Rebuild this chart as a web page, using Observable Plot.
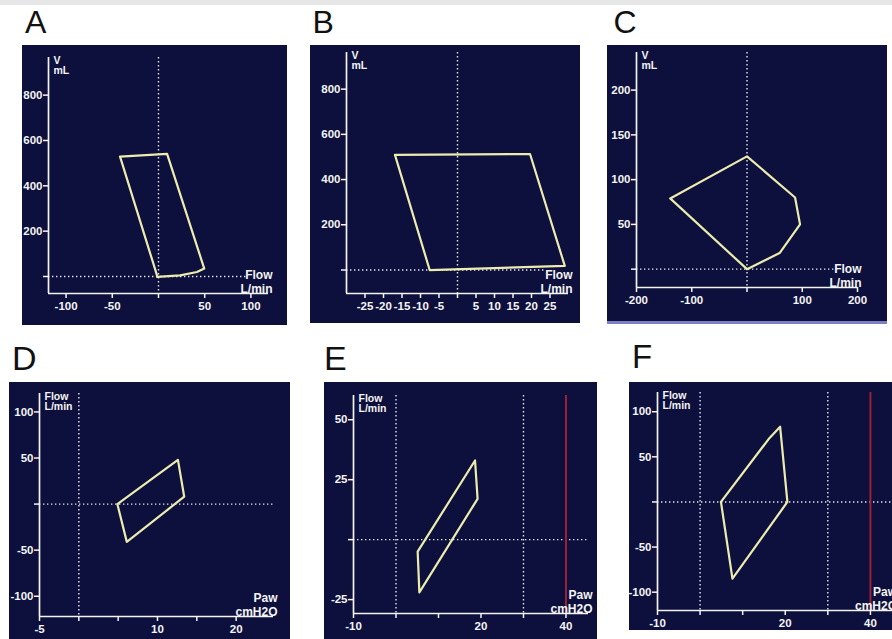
<!DOCTYPE html>
<html>
<head>
<meta charset="utf-8">
<script src="https://cdn.jsdelivr.net/npm/d3@7"></script>
<script src="https://cdn.jsdelivr.net/npm/@observablehq/plot@0.6"></script>
<style>
  html, body { margin: 0; padding: 0; background: #ffffff; }
  #root { position: relative; width: 892px; height: 639px; overflow: hidden; background: #ffffff; }
  .panel { position: absolute; overflow: hidden; }
  .panel svg { display: block; max-width: none !important; }
  #letters { position: absolute; left: 0; top: 0; }
</style>
</head>
<body>
<div id="root"></div>
<script>
// ---------- data ----------
const panelLetters = ["A", "B", "C", "D", "E", "F"];

// A: volume–flow loop
const flowA = [-41.6, 9.3, 49.5, 41.6, 23.4, -1.4, -2.2, -41.6];
const volA  = [529, 541, 35, 20, 5, -2, 13, 529];
// B: volume–flow loop
const flowB = [-16.9, 19.6, 29.0, -7.5, -16.9];
const volB  = [509, 513, 18, -1, 509];
// C: volume–flow loop
const flowC = [0, 59, 96, 87, 0, -139, 0];
const volC  = [0, 18, 50, 80, 126, 79, 0];
// D: flow–pressure loop
const pawD  = [4.9, 12.6, 13.4, 6.1, 4.9];
const flowD = [0, 48, 8, -41, 0];
// E: flow–pressure loop
const pawE  = [5.1, 18.6, 19.2, 5.5, 5.1];
const flowE = [-5, 33, 17, -22, -5];
// F: flow–pressure loop
const pawF  = [4.9, 16.1, 18.8, 20.5, 7.6, 4.9];
const flowF = [0, 69.7, 83.3, 0, -85, 0];

// tick values and the subset that carries a label
const xTicksA = [-100, -50, 0, 50, 100];       const xLabelsA = [-100, -50, 50, 100];
const yTicksA = [0, 200, 400, 600, 800];        const yLabelsA = [200, 400, 600, 800];
const xTicksB = [-25, -20, -15, -10, -5, 0, 5, 10, 15, 20, 25];
const xLabelsB = [-25, -20, -15, -10, -5, 5, 10, 15, 20, 25];
const yTicksB = [0, 200, 400, 600, 800];        const yLabelsB = [200, 400, 600, 800];
const xTicksC = [-200, -100, 0, 100, 200];      const xLabelsC = [-200, -100, 100, 200];
const yTicksC = [0, 50, 100, 150, 200];         const yLabelsC = [50, 100, 150, 200];
const xTicksD = [-5, 0, 5, 10, 15, 20];         const xLabelsD = [-5, 10, 20];
const yTicksD = [-100, -50, 0, 50, 100];        const yLabelsD = [-100, -50, 50, 100];
const xTicksE = [-10, 0, 10, 20, 30, 40];       const xLabelsE = [-10, 20, 40];
const yTicksE = [-25, 0, 25, 50];               const yLabelsE = [-25, 25, 50];
const xTicksF = [-10, 0, 10, 20, 30, 40];       const xLabelsF = [-10, 20, 40];
const yTicksF = [-100, -50, 0, 50, 100];        const yLabelsF = [-100, -50, 50, 100];

// axis names
const vfXName = "Flow\nL/min", vfYName = "V\nmL";
const fpXName = "Paw\ncmH2O",  fpYName = "Flow\nL/min";

// reference lines
const dottedXABC = [0];
const dottedXD = [0];
const dottedXEF = [0, 30];
const pressureLimit = [40];

// ---------- styling / layout ----------
const NAVY = "#0d0f3c";
const LOOP = "#ececae";
const AXIS = "#f4f4f4";
const DOT = "#e6e6f2";
const RED = "#9c1f35";
const FONT = "'Liberation Sans', Arial, sans-serif";

const panels = [
  {letter: panelLetters[0], left: 22, top: 45, w: 265, h: 280, clipW: 265,
   ml: 26, mr: 19, mt: 12, mb: 32, xDomain: [-119, 119], yDomain: [-75, 966],
   px: flowA, py: volA, xTicks: xTicksA, xLabels: xLabelsA, yTicks: yTicksA, yLabels: yLabelsA,
   xName: vfXName, yName: vfYName, dottedX: dottedXABC, hEnd: 97, red: null, nameLH: 1.0, nameFS: 10.5},
  {letter: panelLetters[1], left: 310, top: 45, w: 270, h: 278, clipW: 270,
   ml: 36, mr: 12, mt: 7, mb: 30, xDomain: [-30, 30], yDomain: [-104, 962],
   px: flowB, py: volB, xTicks: xTicksB, xLabels: xLabelsB, yTicks: yTicksB, yLabels: yLabelsB,
   xName: vfXName, yName: vfYName, dottedX: dottedXABC, hEnd: 24, red: null, nameLH: 1.0, nameFS: 10.5},
  {letter: panelLetters[2], left: 607, top: 45, w: 280, h: 276, clipW: 280,
   ml: 29, mr: 30, mt: 7, mb: 34, xDomain: [-200, 200], yDomain: [-20.5, 242],
   px: flowC, py: volC, xTicks: xTicksC, xLabels: xLabelsC, yTicks: yTicksC, yLabels: yLabelsC,
   xName: vfXName, yName: vfYName, dottedX: dottedXABC, hEnd: 170, red: null, nameLH: 1.0, nameFS: 10.5, underline: true},
  {letter: panelLetters[3], left: 9, top: 382, w: 281, h: 257, clipW: 281,
   ml: 30, mr: 17, mt: 11, mb: 23, xDomain: [-5, 24.75], yDomain: [-122, 120],
   px: pawD, py: flowD, xTicks: xTicksD, xLabels: xLabelsD, yTicks: yTicksD, yLabels: yLabelsD,
   xName: fpXName, yName: fpYName, dottedX: dottedXD, hEnd: null, red: null, nameLH: 1.0, nameFS: 10.5},
  {letter: panelLetters[4], left: 324, top: 382, w: 273, h: 257, clipW: 273,
   ml: 29, mr: 9, mt: 13, mb: 26, xDomain: [-10, 45.3], yDomain: [-30.8, 60.1],
   px: pawE, py: flowE, xTicks: xTicksE, xLabels: xLabelsE, yTicks: yTicksE, yLabels: yLabelsE,
   xName: fpXName, yName: fpYName, dottedX: dottedXEF, hEnd: null, red: pressureLimit, nameLH: 1.0, nameFS: 10.5},
  {letter: panelLetters[5], left: 629, top: 382, w: 280, h: 248, clipW: 263,
   ml: 28, mr: 16.5, mt: 10, mb: 20, xDomain: [-10, 45.3], yDomain: [-120.3, 121.3],
   px: pawF, py: flowF, xTicks: xTicksF, xLabels: xLabelsF, yTicks: yTicksF, yLabels: yLabelsF,
   xName: fpXName, yName: fpYName, dottedX: dottedXEF, hEnd: null, red: pressureLimit, nameLH: 1.0, nameFS: 10.5}
];

const letterPos = [
  {x: 25, y: 33, size: 32}, {x: 312.5, y: 33, size: 32}, {x: 613.5, y: 33, size: 32},
  {x: 12, y: 370, size: 34}, {x: 324, y: 370, size: 34}, {x: 632, y: 368, size: 33}
];

const root = document.getElementById("root");

// top grey band + panel letters
const overlay = d3.create("svg").attr("id", "letters").attr("width", 892).attr("height", 639);
overlay.append("rect").attr("x", 0).attr("y", 0).attr("width", 892).attr("height", 5).attr("fill", "#e6e6e6");
panels.forEach((p, i) => {
  overlay.append("text")
    .attr("x", letterPos[i].x).attr("y", letterPos[i].y)
    .attr("font-family", "'Liberation Sans', Arial, sans-serif")
    .attr("font-size", letterPos[i].size)
    .attr("fill", "#111")
    .text(p.letter);
});
root.appendChild(overlay.node());

function makePanel(p) {
  const loop = p.px.map((x, i) => ({x, y: p.py[i]}));
  const hRule = p.hEnd == null ? {} : {x1: p.xDomain[0], x2: p.hEnd};
  const plot = Plot.plot({
    width: p.w, height: p.h,
    marginLeft: p.ml, marginRight: p.mr, marginTop: p.mt, marginBottom: p.mb,
    style: {background: NAVY, color: AXIS, fontFamily: FONT, fontSize: "11.5px", fontWeight: "bold", overflow: "visible", maxWidth: "none"},
    x: {domain: p.xDomain, label: null},
    y: {domain: p.yDomain, label: null},
    marks: [
      Plot.ruleX(p.dottedX, {stroke: DOT, strokeWidth: 1.4, strokeDasharray: "1.4 2.6"}),
      Plot.ruleY([0], {...hRule, stroke: DOT, strokeWidth: 1.4, strokeDasharray: "1.4 2.6"}),
      p.red ? Plot.ruleX(p.red, {stroke: RED, strokeWidth: 2}) : null,
      Plot.ruleX([p.xDomain[0]], {stroke: AXIS, strokeWidth: 1.7}),
      Plot.ruleY([p.yDomain[0]], {stroke: AXIS, strokeWidth: 1.7}),
      Plot.axisX({ticks: p.xTicks, tickFormat: d => p.xLabels.includes(d) ? String(d) : "",
                  tickSize: 5, tickPadding: 3, strokeWidth: 1.5, label: null}),
      Plot.axisY({ticks: p.yTicks, tickFormat: d => p.yLabels.includes(d) ? String(d) : "",
                  tickSize: 5, tickPadding: 1, strokeWidth: 1.5, label: null}),
      Plot.line(loop, {x: "x", y: "y", stroke: LOOP, strokeWidth: 2.2, strokeLinejoin: "round"}),
      Plot.text([p.yName], {frameAnchor: "top-left", textAnchor: "start", lineAnchor: "top",
                            dx: 5, dy: -1, lineHeight: p.nameLH, fill: AXIS, fontSize: p.nameFS}),
      Plot.text([p.xName], {frameAnchor: "bottom-right", textAnchor: "end", lineAnchor: "bottom",
                            dx: 4, dy: -1, lineHeight: 1.1, fill: AXIS, fontSize: 12})
    ]
  });
  plot.style.maxWidth = "none";
  const div = document.createElement("div");
  div.className = "panel";
  div.style.left = p.left + "px";
  div.style.top = p.top + "px";
  div.style.width = p.clipW + "px";
  div.style.height = p.h + "px";
  if (p.underline) {
    div.style.height = (p.h + 3) + "px";
    div.style.background = "#7c80c2";
  }
  div.appendChild(plot);
  root.appendChild(div);
}

panels.forEach(makePanel);
</script>
</body>
</html>
